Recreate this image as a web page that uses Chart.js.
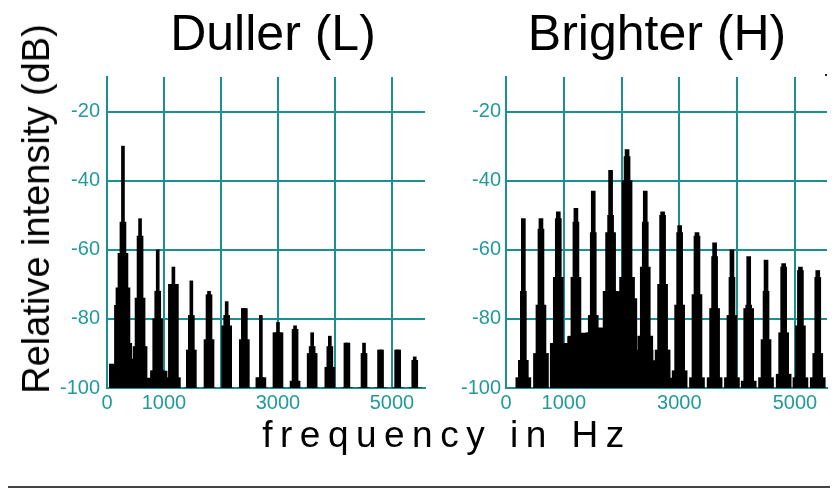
<!DOCTYPE html>
<html>
<head>
<meta charset="utf-8">
<script src="https://cdn.jsdelivr.net/npm/chart.js@4.4.1/dist/chart.umd.min.js"></script>
<style>
  body { margin: 0; background: #fff; }
  #wrap { position: relative; width: 835px; height: 491px; overflow: hidden;
          font-family: 'Liberation Sans', Arial, sans-serif; color: #000; }
  canvas { position: absolute; top: 70px; }
  .title { position: absolute; top: 8px; font-size: 50px; line-height: 50px;
           transform: translateX(-50%); white-space: nowrap; }
  #ylab { position: absolute; left: 36px; top: 209px; font-size: 38px; line-height: 38px;
          transform: translate(-50%, -50%) rotate(-90deg); white-space: nowrap; }
  #xlab { position: absolute; left: 447px; top: 416px; font-size: 37px; line-height: 37px;
          letter-spacing: 7.5px; transform: translateX(-50%); white-space: nowrap; }
  #rule { position: absolute; left: 8px; top: 486px; width: 822px; height: 2px; background: #444; }
  #dot { position: absolute; left: 825px; top: 74px; width: 2px; height: 2px; background: #222; }
</style>
</head>
<body>
<div id="wrap">
  <canvas id="dull" width="430" height="350" style="left:0"></canvas>
  <canvas id="bright" width="405" height="350" style="left:430px"></canvas>
  <div class="title" style="left:273px">Duller (L)</div>
  <div class="title" style="left:657px">Brighter (H)</div>
  <div id="ylab">Relative intensity (dB)</div>
  <div id="xlab">frequency in Hz</div>
  <div id="rule"></div>
  <div id="dot"></div>
</div>
<script>
// axis ticks
const xTicks = [0, 1000, 2000, 3000, 4000, 5000];
const xTickLabels = ['0', '1000', '', '3000', '', '5000'];
const yTicks = [-100, -80, -60, -40, -20];

// Duller (L): harmonic positions (Hz) and levels (dB) at several widths
const dullerHz = [280, 580, 890, 1165, 1480, 1790, 2100, 2410, 2700, 3000, 3300, 3600, 3910, 4210, 4510, 4800, 5100, 5400];
const dullerPeak = [-30, -51, -60, -65, -69, -72, -75, -77, -79, -81, -82, -84, -85, -87, -87, -89, -89, -91];
const dullerMid = [-52, -56, -72, -70, -79, -73, -79, -77, -97, -84, -83, -88, -88, -87, -90, -89, -89, -92];
const dullerLow = [-61, -74, -80, -70, -89, -86, -82, -86, -97, -84, -98, -90, -94, -100, -100, -100, -100, -100];
const dullerSkirt = [-71, -88, -95, -97, -100, -100, -100, -100, -100, -100, -100, -100, -100, -100, -100, -100, -100, -100];
// noise floor: level holds from each frequency up to the next one
const dullerFloorHz = [0, 35, 125, 390, 440, 510, 690, 760, 1060, 5580];
const dullerFloorDb = [-100, -93, -76, -87, -91.5, -100, -97, -95, -100, -100];

// Brighter (H)
const brighterHz = [300, 605, 905, 1210, 1510, 1810, 2095, 2410, 2710, 3005, 3305, 3610, 3910, 4200, 4500, 4805, 5095, 5395];
const brighterPeak = [-51, -51, -49, -48, -43, -37, -31, -43, -49, -53, -55, -58, -60, -62, -63, -64, -65, -66];
const brighterMid = [-72, -54, -51, -52, -55, -50, -33, -52, -50, -55, -56, -62, -68, -76, -72, -65, -66, -68];
const brighterLow = [-92, -76, -68, -68, -79, -55, -40, -65, -70, -76, -73, -77, -79, -77, -86, -84, -82, -90];
const brighterSkirt = [-97, -90, -88, -85, -84, -72, -68, -85, -89, -95, -97, -97, -97, -98, -97, -96, -97, -97];
const brighterFloorHz = [0, 760, 1060, 1280, 1460, 1750, 2100, 2270, 2550, 2840, 2950, 5555];
const brighterFloorDb = [-100, -87, -85, -84, -82.5, -72, -74, -89, -92, -97, -100, -100];

const teal = '#1a9090';
const tealText = '#229a9a';

function barSet(hz, vals, thick) {
  return {
    type: 'bar',
    data: hz.map((f, i) => ({ x: f, y: [-100, vals[i]] })),
    backgroundColor: '#000',
    borderWidth: 0,
    barThickness: thick,
    grouped: false
  };
}

// each level runs from its own frequency to the next one ('before' = step at target)
function floorSet(hz, db) {
  const pts = [];
  hz.forEach((f, i) => {
    pts.push({ x: f, y: db[i] });
    if (i + 1 < hz.length) pts.push({ x: hz[i + 1], y: db[i] });
  });
  return {
    type: 'line',
    data: pts,
    stepped: 'before',
    fill: 'start',
    backgroundColor: '#000',
    borderWidth: 0,
    pointRadius: 0
  };
}

function panel(id, hz, peak, mid, low, skirt, floorHz, floorDb, widths, xMax, yw, yPad, rightPad) {
  new Chart(document.getElementById(id), {
    type: 'bar',
    data: {
      datasets: [
        barSet(hz, peak, widths[0]),
        barSet(hz, mid, widths[1]),
        barSet(hz, low, widths[2]),
        barSet(hz, skirt, widths[3]),
        floorSet(floorHz, floorDb)
      ]
    },
    options: {
      responsive: false,
      animation: false,
      devicePixelRatio: 1,
      events: [],
      layout: { padding: { top: 7, right: rightPad, left: 0, bottom: 0 } },
      plugins: { legend: { display: false }, tooltip: { enabled: false } },
      scales: {
        x: {
          type: 'linear',
          min: 0,
          max: xMax,
          offset: false,
          grid: { color: teal, lineWidth: 2, drawTicks: false, offset: false },
          border: { color: teal, width: 2 },
          afterBuildTicks: ax => { ax.ticks = xTicks.map(v => ({ value: v })); },
          afterFit: ax => { ax.height = 32; ax.paddingLeft = 0; ax.paddingRight = 0; },
          ticks: {
            color: tealText,
            padding: 3,
            maxRotation: 0,
            autoSkip: false,
            font: { family: "'Liberation Sans', Arial, sans-serif", size: 20 },
            callback: (v, i) => xTickLabels[i]
          }
        },
        y: {
          min: -100,
          max: -10,
          beginAtZero: false,
          grid: { color: teal, lineWidth: 2, drawTicks: false },
          border: { color: teal, width: 2 },
          afterBuildTicks: ax => { ax.ticks = yTicks.map(v => ({ value: v })); },
          afterFit: ax => { ax.width = yw; ax.paddingTop = 0; ax.paddingBottom = 0; },
          ticks: {
            color: tealText,
            padding: yPad,
            font: { family: "'Liberation Sans', Arial, sans-serif", size: 20 }
          }
        }
      }
    }
  });
}

panel('dull', dullerHz, dullerPeak, dullerMid, dullerLow, dullerSkirt,
      dullerFloorHz, dullerFloorDb, [3, 6, 10, 14], 5580, 107, 7, 5);
panel('bright', brighterHz, brighterPeak, brighterMid, brighterLow, brighterSkirt,
      brighterFloorHz, brighterFloorDb, [4, 6, 10, 15], 5555, 76, 5, 8);
</script>
</body>
</html>
